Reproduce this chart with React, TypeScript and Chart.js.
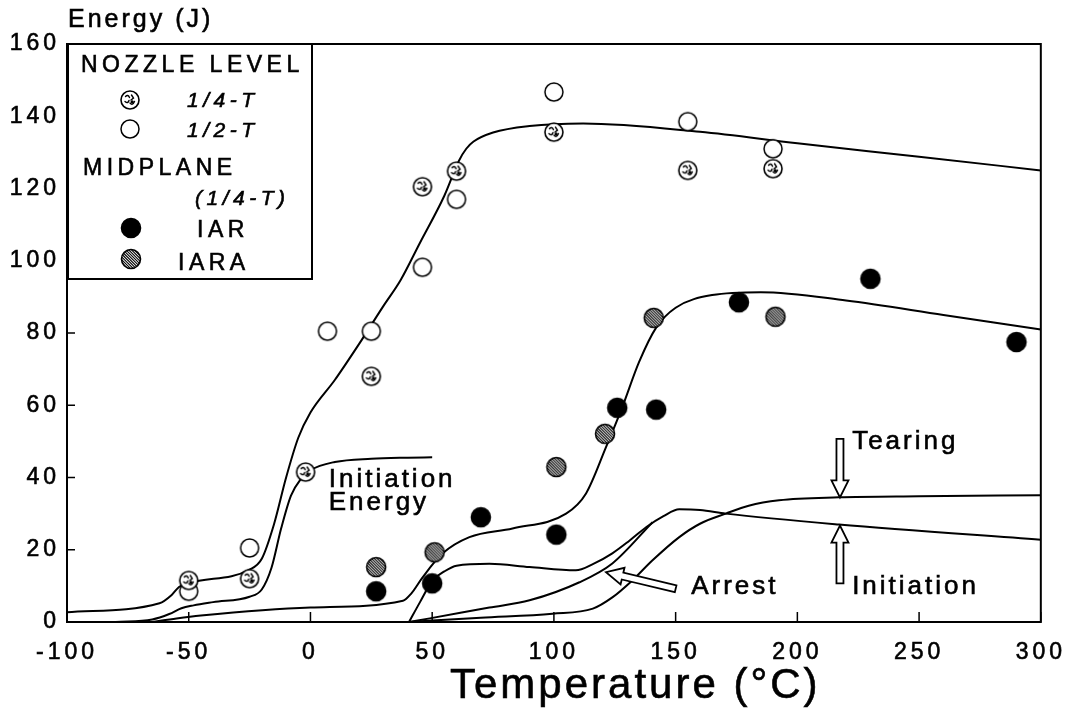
import React, { useEffect, useRef } from 'react';
import { Chart, registerables } from 'chart.js';

Chart.register(...registerables);

const FONT = '"Liberation Sans", Arial, Helvetica, sans-serif';

// ---- axis ticks ----
const xTickValues = [-100, -50, 0, 50, 100, 150, 200, 250, 300];
const yTickValues = [0, 20, 40, 60, 80, 100, 120, 140, 160];

// ---- nozzle level data ----
const quarterTX = [-50, -25, -2, 25, 46, 60, 100, 155, 190];
const quarterTY = [11.5, 12, 41.5, 68, 120.5, 124.8, 135.6, 125, 125.5];
const halfTX = [-50, -25, 7, 25, 46, 60, 100, 155, 190];
const halfTY = [8.5, 20.5, 80.5, 80.5, 98.2, 117, 146.7, 138.5, 131];

// ---- midplane (1/4-T) data ----
const iarX = [27, 50, 70, 101, 126, 142, 176, 230, 290];
const iarY = [8.5, 10.7, 29, 24.2, 59.3, 58.8, 88.5, 95, 77.5];
const iaraX = [27, 51, 101, 121, 141, 191];
const iaraY = [15.2, 19.3, 42.9, 52.1, 84.2, 84.5];

// ---- fitted curves ----
const nozzleFitX = [-100, -62, -57, -54, -50, -25, -20, -15, -10, -5, 0, 10, 20, 30, 37, 45, 55, 61, 64, 67, 75, 90, 112, 160, 200, 250, 300];
const nozzleFitY = [2.7, 5.2, 7.5, 9.7, 10.8, 14.5, 17.5, 27, 40, 51, 58, 67, 77, 87.5, 94.6, 105, 118, 127.7, 131, 133, 135.5, 137.3, 138, 135.7, 132.5, 128.8, 125];
const nozzleInitX = [-80, -65, -58, -53, -48, -40, -25, -20, -16, -12, -8, -4, 0, 10, 25, 40, 50];
const nozzleInitY = [0, 0.7, 2.2, 3.8, 4.6, 5.5, 7, 9, 15, 26, 35, 39.5, 42, 44.3, 45.2, 45.5, 45.6];
const midFitX = [-65, -55, -45, 0, 38, 41.3, 46, 54.3, 65.3, 83, 105, 113.2, 121.4, 128.1, 135, 142, 150, 165, 185, 220, 260, 300];
const midFitY = [0, 1, 1.8, 4, 5.9, 7.8, 12.3, 19, 23.5, 25.9, 30, 35.6, 48.4, 59.5, 72, 81.5, 87, 90.5, 91.3, 89, 85, 81];
const midInitX = [40.5, 45, 50.2, 55, 60, 73.5, 90, 109, 116, 124, 131, 138, 145, 151.5, 160, 170.6, 217, 300];
const midInitY = [0, 5.5, 11.5, 14, 15.6, 16.1, 15.2, 14.3, 16, 19, 22.5, 26.3, 29.3, 31.2, 31, 30, 27, 22.8];
const tearX = [40, 70, 99.4, 116, 124, 132.2, 140.4, 151.5, 160, 170.6, 180, 192.5, 217, 250, 300];
const tearY = [0, 1.2, 2.3, 3.7, 6.8, 11.5, 17, 23.5, 27.2, 30, 32.2, 33.7, 34.5, 34.8, 35.1];
const arrestX = [40.7, 49, 73.5, 90, 110.5, 124, 140.5];
const arrestY = [0, 1, 4, 6, 11, 16.2, 27.6];

// ---- annotations (data units) ----
const arrows = [
  { from: [217.5, 50.7], to: [217.5, 34.5] },
  { from: [217.5, 10.7], to: [217.5, 26.7] },
  { from: [150, 9.2], to: [121.4, 13.8] },
];
const labels = [
  { text: 'Initiation', x: 7.5, y: 37.5 },
  { text: 'Energy', x: 7.5, y: 30.9 },
  { text: 'Tearing', x: 222.5, y: 48 },
  { text: 'Initiation', x: 222.5, y: 7.8 },
  { text: 'Arrest', x: 156.4, y: 7.8 },
];

const pts = (xs: number[], ys: number[]) => xs.map((x, i) => ({ x, y: ys[i] }));

function makeMarker(kind: string): HTMLCanvasElement {
  const c = document.createElement('canvas');
  c.width = 24; c.height = 24;
  const g = c.getContext('2d')!;
  g.translate(12, 12);
  const r = kind === 'iar' || kind === 'iara' ? 9.5 : 9;
  g.beginPath(); g.arc(0, 0, r, 0, Math.PI * 2);
  g.fillStyle = kind === 'iar' ? '#000' : '#fff';
  g.fill();
  if (kind === 'iara') {
    g.save();
    g.beginPath(); g.arc(0, 0, r, 0, Math.PI * 2); g.clip();
    g.strokeStyle = '#000'; g.lineWidth = 1.1;
    for (let k = -24; k <= 24; k += 2.8) {
      g.beginPath(); g.moveTo(k - 12, -12); g.lineTo(k + 12, 12); g.stroke();
    }
    g.restore();
  }
  if (kind === 'quarter') {
    g.strokeStyle = '#000'; g.lineWidth = 1.4; g.lineCap = 'round';
    g.beginPath();
    g.moveTo(-4.5, -3.5); g.quadraticCurveTo(-2, -6, -0.5, -2.5);
    g.moveTo(1.5, -5); g.lineTo(3.5, -2); g.lineTo(1, 0);
    g.moveTo(-5, 1.5); g.quadraticCurveTo(-2, 4, -1, 0.5);
    g.moveTo(0, 3); g.quadraticCurveTo(2.5, 6, 4.5, 1.5);
    g.stroke();
    g.beginPath(); g.arc(2.2, 1.8, 1.6, 0, Math.PI * 2); g.fillStyle = '#000'; g.fill();
  }
  g.beginPath(); g.arc(0, 0, r, 0, Math.PI * 2);
  g.strokeStyle = '#000'; g.lineWidth = kind === 'half' ? 1.5 : 1.6;
  g.stroke();
  return c;
}

function drawArrow(ctx: CanvasRenderingContext2D, x1: number, y1: number, x2: number, y2: number) {
  const dx = x2 - x1, dy = y2 - y1;
  const len = Math.hypot(dx, dy);
  const ux = dx / len, uy = dy / len;
  const nx = -uy, ny = ux;
  const w = 3.5, hw = 8.5, hl = 17;
  const bx = x2 - ux * hl, by = y2 - uy * hl;
  ctx.beginPath();
  ctx.moveTo(x1 + nx * w, y1 + ny * w);
  ctx.lineTo(bx + nx * w, by + ny * w);
  ctx.lineTo(bx + nx * hw, by + ny * hw);
  ctx.lineTo(x2, y2);
  ctx.lineTo(bx - nx * hw, by - ny * hw);
  ctx.lineTo(bx - nx * w, by - ny * w);
  ctx.lineTo(x1 - nx * w, y1 - ny * w);
  ctx.closePath();
  ctx.fillStyle = '#fff';
  ctx.fill();
  ctx.lineWidth = 1.8;
  ctx.strokeStyle = '#000';
  ctx.stroke();
}

function text(ctx: CanvasRenderingContext2D, s: string, x: number, y: number) {
  ctx.fillText(s, x, y);
  ctx.strokeText(s, x, y);
}

export default function App() {
  const ref = useRef<HTMLCanvasElement>(null);

  useEffect(() => {
    document.body.style.margin = '0';
    const markers = {
      quarter: makeMarker('quarter'),
      half: makeMarker('half'),
      iar: makeMarker('iar'),
      iara: makeMarker('iara'),
    };

    const curve = (xs: number[], ys: number[]) => ({
      data: pts(xs, ys),
      showLine: true,
      borderColor: '#000',
      borderWidth: 2,
      pointRadius: 0,
      cubicInterpolationMode: 'monotone' as const,
      fill: false,
      order: 2,
    });
    const scatter = (xs: number[], ys: number[], m: HTMLCanvasElement) => ({
      data: pts(xs, ys),
      showLine: false,
      pointStyle: m,
      pointRadius: 10,
      order: 1,
    });

    const decor = {
      id: 'decor',
      beforeDraw(chart: any) {
        chart.ctx.letterSpacing = '4px';
      },
      afterDraw(chart: any) {
        const ctx: CanvasRenderingContext2D = chart.ctx;
        const a = chart.chartArea;
        const xs = chart.scales.x, ys = chart.scales.y;
        ctx.save();
        ctx.strokeStyle = '#000';
        ctx.lineWidth = 2;
        ctx.strokeRect(a.left, a.top, a.right - a.left, a.bottom - a.top);
        ctx.lineWidth = 1.5;
        ctx.beginPath();
        for (const v of xTickValues) {
          const px = xs.getPixelForValue(v);
          ctx.moveTo(px, a.bottom); ctx.lineTo(px, a.bottom - 10);
        }
        for (const v of yTickValues) {
          const py = ys.getPixelForValue(v);
          ctx.moveTo(a.left, py); ctx.lineTo(a.left + 8, py);
        }
        ctx.stroke();

        // arrows
        for (const ar of arrows) {
          drawArrow(ctx, xs.getPixelForValue(ar.from[0]), ys.getPixelForValue(ar.from[1]),
            xs.getPixelForValue(ar.to[0]), ys.getPixelForValue(ar.to[1]));
        }

        // annotation labels
        ctx.fillStyle = '#000';
        ctx.strokeStyle = '#000';
        ctx.lineWidth = 0.6;
        ctx.textAlign = 'left';
        ctx.textBaseline = 'alphabetic';
        ctx.font = `26px ${FONT}`;
        (ctx as any).letterSpacing = '3px';
        for (const l of labels) {
          text(ctx, l.text, xs.getPixelForValue(l.x), ys.getPixelForValue(l.y));
        }

        // y axis caption
        ctx.font = `25px ${FONT}`;
        (ctx as any).letterSpacing = '3px';
        text(ctx, 'Energy (J)', a.left + 1, 27);

        // x axis title
        ctx.font = `42px ${FONT}`;
        (ctx as any).letterSpacing = '3px';
        text(ctx, 'Temperature (\u00B0C)', 450, 698);

        // legend
        const L = a.left, T = a.top;
        ctx.fillStyle = '#fff';
        ctx.fillRect(L, T, 245, 235);
        ctx.lineWidth = 2;
        ctx.strokeRect(L + 1, T, 244, 235);
        ctx.fillStyle = '#000';
        ctx.lineWidth = 0.6;
        ctx.font = `23px ${FONT}`;
        (ctx as any).letterSpacing = '4.5px';
        text(ctx, 'NOZZLE LEVEL', L + 14, T + 28);
        text(ctx, 'MIDPLANE', L + 16, T + 131);
        text(ctx, 'IAR', L + 130, T + 193);
        text(ctx, 'IARA', L + 111, T + 226);
        ctx.font = `italic 21px ${FONT}`;
        text(ctx, '1/4-T', L + 120, T + 63);
        text(ctx, '1/2-T', L + 120, T + 93);
        text(ctx, '(1/4-T)', L + 128, T + 161);
        const dm = (m: HTMLCanvasElement, x: number, y: number) =>
          ctx.drawImage(m, L + x - m.width / 2, T + y - m.height / 2);
        dm(markers.quarter, 63, 56);
        dm(markers.half, 63, 85);
        dm(markers.iar, 64, 184);
        dm(markers.iara, 64, 215);
        (ctx as any).letterSpacing = '0px';
        ctx.restore();
      },
    };

    const tickFont = { family: FONT, size: 23 };
    const chart = new Chart(ref.current!, {
      type: 'scatter',
      data: {
        datasets: [
          scatter(quarterTX, quarterTY, markers.quarter),
          scatter(halfTX, halfTY, markers.half),
          scatter(iarX, iarY, markers.iar),
          scatter(iaraX, iaraY, markers.iara),
          curve(nozzleFitX, nozzleFitY),
          curve(nozzleInitX, nozzleInitY),
          curve(midFitX, midFitY),
          curve(midInitX, midInitY),
          curve(tearX, tearY),
          curve(arrestX, arrestY),
        ] as any,
      },
      options: {
        responsive: false,
        animation: false,
        devicePixelRatio: 1,
        layout: { padding: { left: 0, right: 35, top: 44, bottom: 0 } },
        plugins: { legend: { display: false }, tooltip: { enabled: false }, title: { display: false } },
        scales: {
          x: {
            type: 'linear',
            min: -100,
            max: 300,
            afterBuildTicks: (s: any) => { s.ticks = xTickValues.map((v) => ({ value: v })); },
            afterFit: (s: any) => { s.height = 93; },
            ticks: {
              callback: (v: any) => String(v),
              font: tickFont,
              color: '#000',
              textStrokeColor: '#000',
              textStrokeWidth: 0.6,
              padding: 17,
              maxRotation: 0,
              autoSkip: false,
            },
            grid: { display: false, drawTicks: false },
            border: { display: false },
          },
          y: {
            type: 'linear',
            min: 0,
            max: 160,
            afterBuildTicks: (s: any) => { s.ticks = yTickValues.map((v) => ({ value: v })); },
            afterFit: (s: any) => { s.width = 67; },
            ticks: {
              callback: (v: any) => String(v),
              font: tickFont,
              color: '#000',
              textStrokeColor: '#000',
              textStrokeWidth: 0.6,
              padding: 7,
              autoSkip: false,
            },
            grid: { display: false, drawTicks: false },
            border: { display: false },
          },
        },
      },
      plugins: [decor],
    });
    return () => chart.destroy();
  }, []);

  return (
    <div style={{ width: 1077, height: 715, background: '#fff' }}>
      <canvas ref={ref} width={1077} height={715} />
    </div>
  );
}
